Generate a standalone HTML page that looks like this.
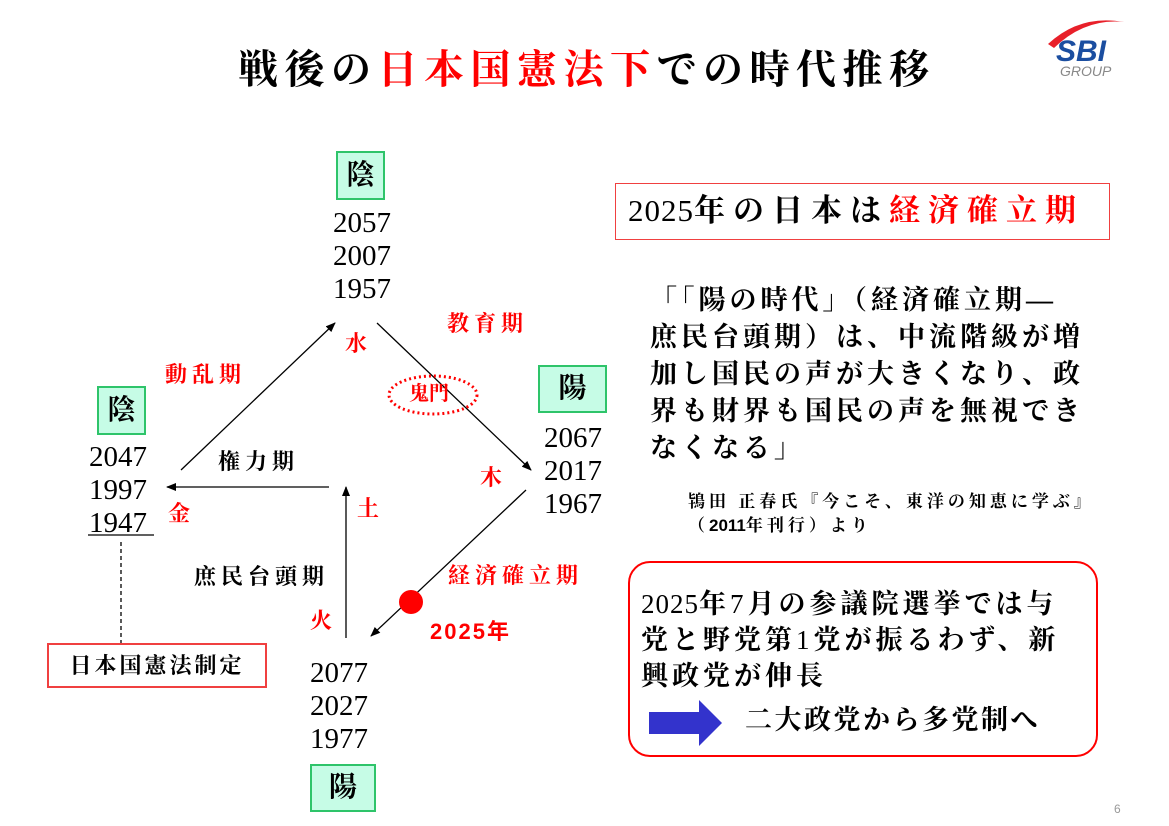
<!DOCTYPE html>
<html><head><meta charset="utf-8"><style>
body{margin:0;width:1169px;height:826px;background:#fff;position:relative;overflow:hidden;font-family:"Liberation Sans","Noto Sans CJK JP",sans-serif;}
.a{position:absolute;white-space:nowrap;line-height:1;}
.j{font-family:"Liberation Serif","Noto Serif CJK SC","Noto Sans CJK JP",serif;font-weight:bold;}
.j .d{font-weight:normal;}
.r{color:#f00;}
.n{font-family:"Liberation Serif",serif;font-size:29px;line-height:33px;color:#000;}
.box{position:absolute;background:#c6fce6;border:2px solid #2ec46a;box-sizing:border-box;text-align:center;font-family:"Liberation Serif","Noto Serif CJK SC",serif;font-weight:bold;font-size:28px;}
.lbl{font-size:22px;letter-spacing:5px;}
</style></head><body>
<div class="a j" style="left:238px;top:50px;font-size:40px;letter-spacing:6.5px;">戦後の<span class="r">日本国憲法下</span>での時代推移</div>
<svg class="a" style="left:1040px;top:10px" width="90" height="70"><path d="M8 34 Q40 4 84 12 Q45 8 14 38Z" fill="#e8202a"/><text x="16" y="51" font-family="Liberation Sans" font-weight="bold" font-style="italic" font-size="30" fill="#1b4ea0">SBI</text><text x="20" y="66" font-family="Liberation Sans" font-style="italic" font-size="14" fill="#888">GROUP</text></svg>

<svg class="a" style="left:0;top:0" width="1169" height="826">
<defs><marker id="m" markerWidth="10" markerHeight="8" refX="9" refY="4" orient="auto" markerUnits="userSpaceOnUse"><path d="M0 0L10 4L0 8Z" fill="#000"/></marker></defs>
<g stroke="#000" stroke-width="1.3" fill="none">
<line x1="181" y1="470" x2="335" y2="323" marker-end="url(#m)"/>
<line x1="377" y1="323" x2="531" y2="470" marker-end="url(#m)"/>
<line x1="329" y1="487" x2="167" y2="487" marker-end="url(#m)"/>
<line x1="346" y1="638" x2="346" y2="487" marker-end="url(#m)"/>
<line x1="526" y1="490" x2="371" y2="636" marker-end="url(#m)"/>
<line x1="121" y1="542" x2="121" y2="644" stroke-dasharray="4,3"/>
<line x1="88" y1="535" x2="154" y2="535"/>
</g>
<circle cx="411" cy="602" r="12" fill="#f00"/>
<ellipse cx="433" cy="395" rx="44" ry="19" fill="none" stroke="#f00" stroke-width="3" stroke-dasharray="2,3"/>
<polygon points="649,712 699,712 699,700 722,723 699,746 699,734 649,734" fill="#3333cc"/>
</svg>

<div class="box" style="left:336px;top:151px;width:49px;height:49px;line-height:45px;">陰</div>
<div class="box" style="left:97px;top:386px;width:49px;height:49px;line-height:45px;">陰</div>
<div class="box" style="left:538px;top:365px;width:69px;height:48px;line-height:44px;">陽</div>
<div class="box" style="left:310px;top:764px;width:66px;height:48px;line-height:44px;">陽</div>

<div class="a n" style="left:333px;top:207px;">2057<br>2007<br>1957</div>
<div class="a n" style="left:89px;top:441px;">2047<br>1997<br>1947</div>
<div class="a n" style="left:544px;top:422px;">2067<br>2017<br>1967</div>
<div class="a n" style="left:310px;top:657px;">2077<br>2027<br>1977</div>

<div class="a j r lbl" style="left:165px;top:364px;">動乱期</div>
<div class="a j r lbl" style="left:345px;top:333px;">水</div>
<div class="a j r lbl" style="left:447px;top:313px;">教育期</div>
<div class="a j r" style="left:409px;top:384px;font-size:20px;">鬼門</div>
<div class="a j r lbl" style="left:480px;top:467px;">木</div>
<div class="a j r lbl" style="left:168px;top:503px;">金</div>
<div class="a j lbl" style="left:218px;top:451px;">権力期</div>
<div class="a j r lbl" style="left:357px;top:498px;">土</div>
<div class="a j lbl" style="left:194px;top:566px;">庶民台頭期</div>
<div class="a j r lbl" style="left:310px;top:610px;">火</div>
<div class="a j r lbl" style="left:448px;top:565px;">経済確立期</div>
<div class="a j r lbl" style="left:430px;top:621px;letter-spacing:2px;font-family:'Liberation Sans','Noto Sans CJK JP',sans-serif;">2025年</div>

<div class="a j" style="left:47px;top:643px;width:220px;height:45px;border:2px solid #f04040;box-sizing:border-box;font-size:22px;line-height:41px;text-align:center;letter-spacing:3px;">日本国憲法制定</div>

<div class="a j" style="left:615px;top:183px;width:495px;height:57px;border:1.5px solid #f04040;box-sizing:border-box;font-size:31px;line-height:54px;padding-left:12px;letter-spacing:8px;"><span class="d" style="letter-spacing:1px">2025</span>年の日本は<span class="r">経済確立期</span></div>

<div class="a j" style="left:650px;top:282px;font-size:27px;line-height:37px;letter-spacing:4px;">「「陽の時代」（経済確立期―<br>庶民台頭期）は、中流階級が増<br>加し国民の声が大きくなり、政<br>界も財界も国民の声を無視でき<br>なくなる」</div>
<div class="a j" style="left:688px;top:490px;font-size:17px;line-height:24px;letter-spacing:4px;">鴇田 正春氏『今こそ、東洋の知恵に学ぶ』<br>（<span style="font-family:'Liberation Sans',sans-serif;letter-spacing:0">2011</span>年刊行）より</div>

<div class="a" style="left:628px;top:561px;width:470px;height:196px;border:2px solid #f00;border-radius:22px;box-sizing:border-box;"></div>
<div class="a j" style="left:641px;top:586px;font-size:27px;line-height:36px;letter-spacing:4px;"><span class="d" style="letter-spacing:1px">2025</span>年<span class="d">7</span>月の参議院選挙では与<br>党と野党第<span class="d">1</span>党が振るわず、新<br>興政党が伸長</div>
<div class="a j" style="left:745px;top:707px;font-size:27px;letter-spacing:2.5px;">二大政党から多党制へ</div>
<div class="a" style="left:1114px;top:803px;font-size:12px;color:#999;">6</div>
</body></html>
